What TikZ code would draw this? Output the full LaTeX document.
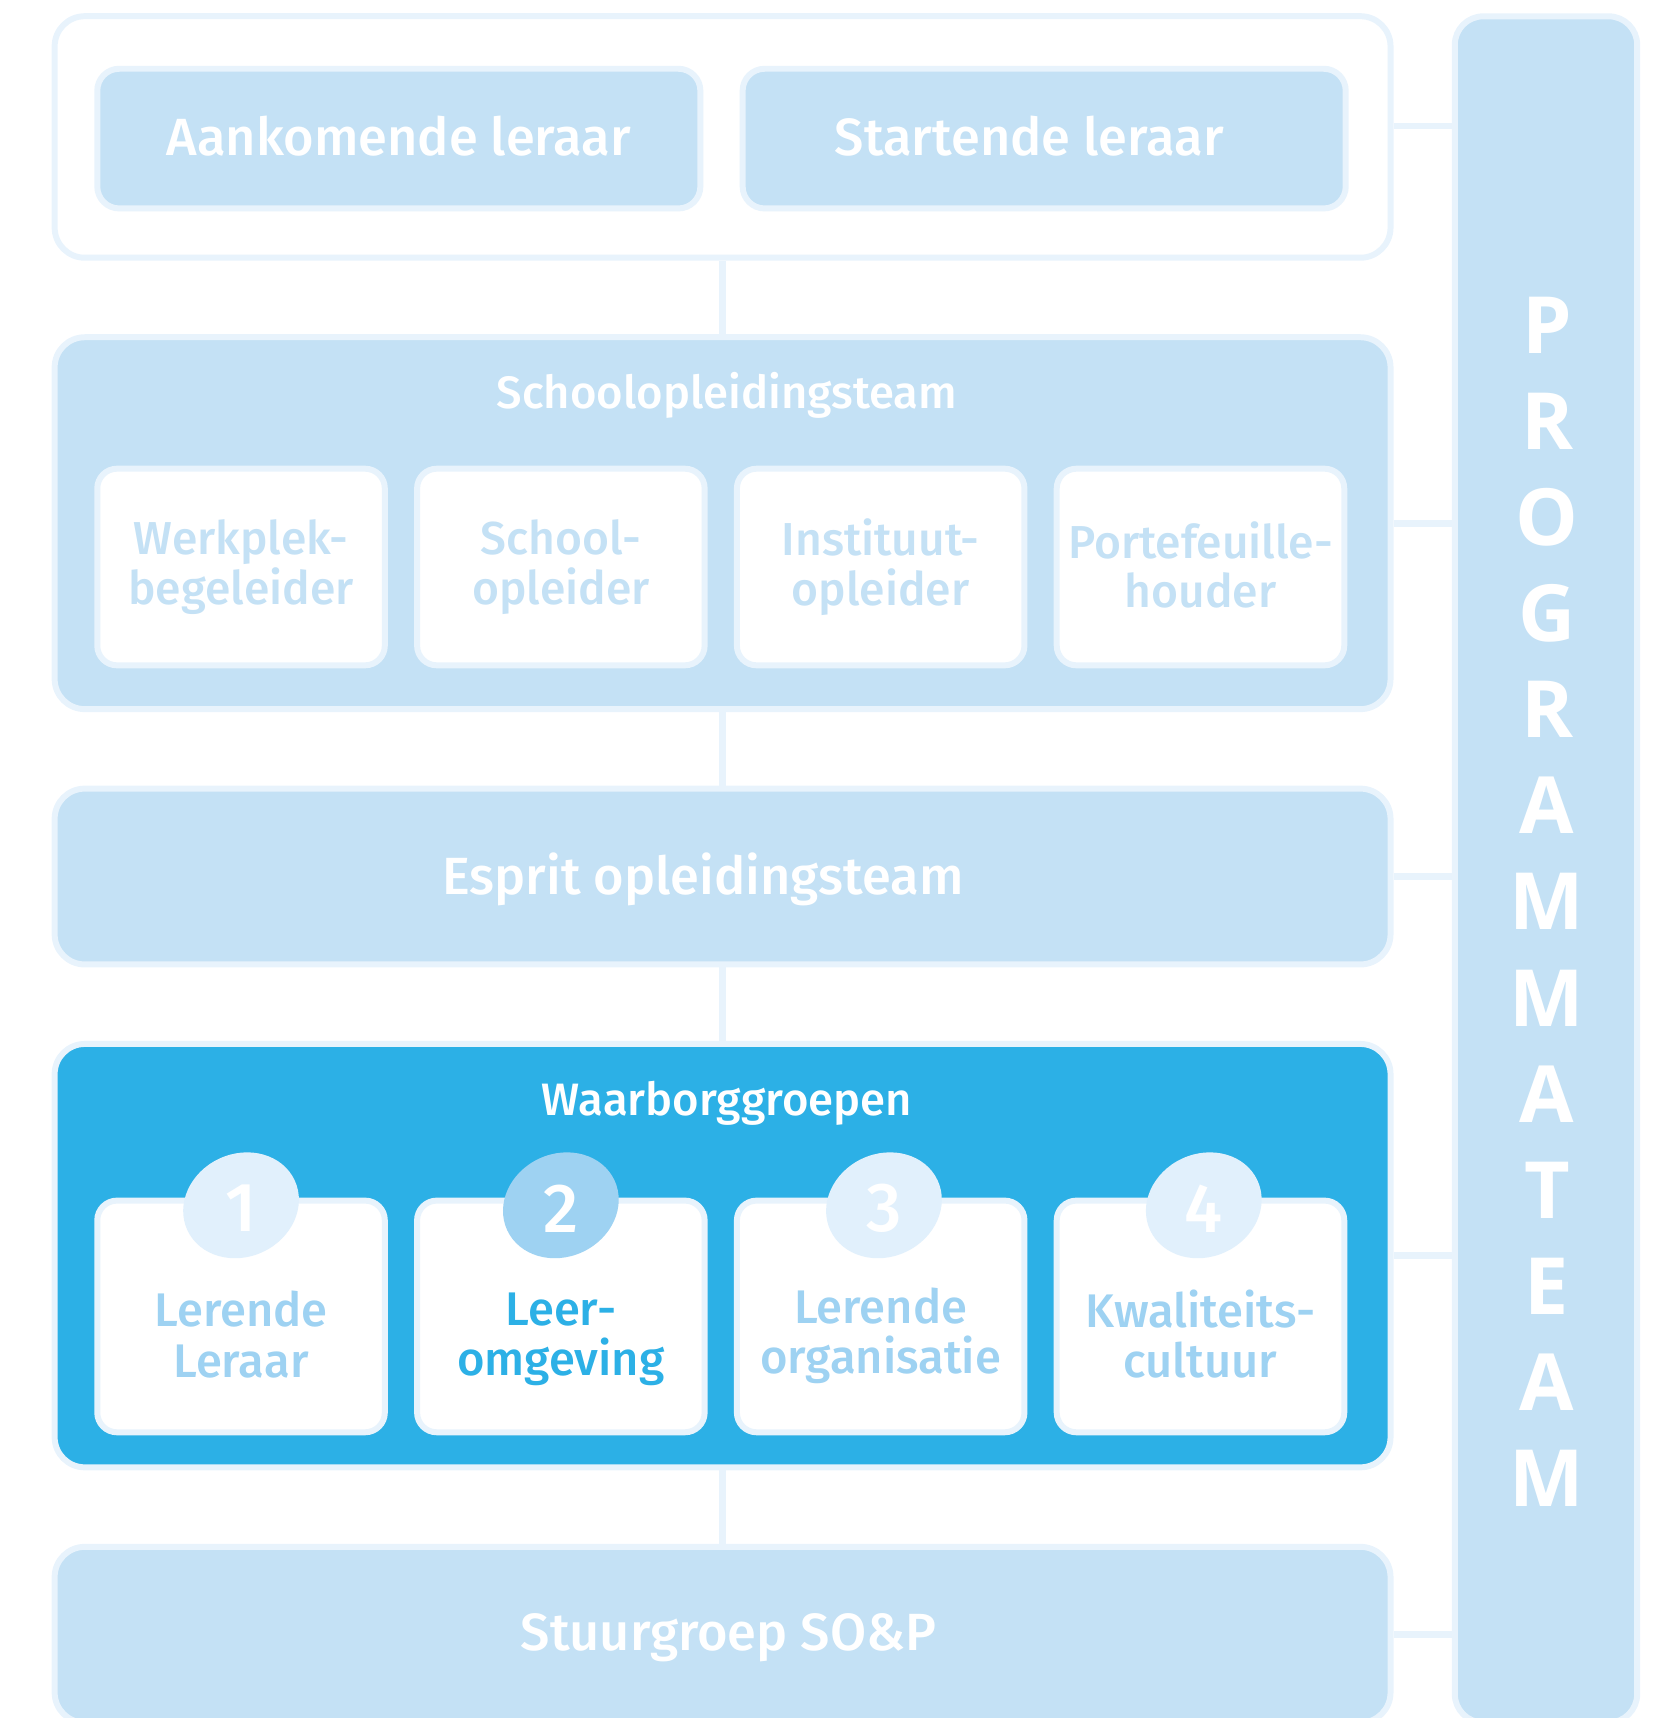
\documentclass[tikz,border=0pt]{standalone}
\usepackage{fontspec}
\setmainfont{Fira Sans}[BoldFont={Fira Sans Medium}]
\newfontfamily\progfont{Open Sans}
\usetikzlibrary{positioning, shapes.geometric}

\definecolor{palebd}{HTML}{E8F3FC}
\definecolor{lightfill}{HTML}{C4E1F5}
\definecolor{waarblue}{HTML}{2CB0E6}
\definecolor{bloblight}{HTML}{E1F0FC}
\definecolor{blobdark}{HTML}{9ED2F2}

\begin{document}
\begin{tikzpicture}[x=0.02cm, y=-0.02cm, every node/.style={inner sep=0pt}]
    \tikzstyle{panel}=[draw=palebd, line width=3.1pt, rounded corners=0.55cm, minimum width=24.39cm]
    \tikzstyle{rolebox}=[draw=palebd, fill=lightfill, line width=3.1pt, rounded corners=0.4cm, minimum width=11.01cm, minimum height=2.55cm]
    \tikzstyle{subbox}=[draw=palebd, fill=white, line width=3.1pt, rounded corners=0.36cm, minimum width=5.25cm, minimum height=3.59cm, align=center, text=lightfill, font=\bfseries\fontsize{24}{25.6}\selectfont]
    \tikzstyle{waarbox}=[subbox, minimum height=4.23cm]
    \tikzstyle{blob}=[ellipse, minimum width=2.16cm, minimum height=1.88cm, rotate=25]
    \tikzstyle{num}=[text=white, font=\bfseries\fontsize{36}{36}\selectfont]
    \tikzstyle{waartext}=[align=center, text=blobdark, font=\bfseries\fontsize{24.5}{26}\selectfont]
    \tikzstyle{bigtext}=[anchor=base, text=white, font=\bfseries\fontsize{27.2}{30}\selectfont]
    \tikzstyle{titletext}=[anchor=base, text=white, font=\bfseries\fontsize{23.6}{26}\selectfont]
    \tikzstyle{progletter}=[text=white, font=\progfont\bfseries\fontsize{41}{41}\selectfont]
    \tikzstyle{link}=[draw=palebd, line width=3.6pt]

    \useasboundingbox (0,0) rectangle (1510,1568);

    % leraren
    \node[panel, fill=white, minimum height=4.41cm] (top) at (659.5,125) {};
    \node[rolebox] (aank) at (364,126.5) {};
    \node[rolebox] (start) at (953,126.5) {};
    \node[bigtext] (aanktext) at (364,141.5) {Aankomende leraar};
    \node[bigtext] (starttext) at (939.5,141.5) {Startende leraar};

    % schoolopleidingsteam
    \node[panel, fill=lightfill, minimum height=6.79cm] (school) at (659.5,477.5) {};
    \node[titletext] (schooltitle) at (663.5,373) {Schoolopleidingsteam};
    \node[subbox] (s1) at (220,517.5) {Werkplek-\\begeleider};
    \node[subbox, right=0.48cm of s1] (s2) {School-\\opleider};
    \node[subbox, right=0.48cm of s2] (s3) {Instituut-\\opleider};
    \node[subbox, right=0.48cm of s3, text depth=0.25em] (s4) {Portefeuille-\\houder};

    % esprit
    \node[panel, fill=lightfill, minimum height=3.21cm] (esprit) at (659.5,800) {};
    \node[bigtext] (esprittext) at (641.5,816) {Esprit opleidingsteam};

    % waarborggroepen
    \node[panel, fill=waarblue, minimum height=7.73cm] (waar) at (659.5,1146) {};
    \node[titletext] (waartitle) at (663.5,1018) {Waarborggroepen};
    \node[waarbox] (w1) at (220,1201.5) {};
    \node[waarbox, right=0.48cm of w1] (w2) {};
    \node[waarbox, right=0.48cm of w2] (w3) {};
    \node[waarbox, right=0.48cm of w3] (w4) {};
    \node[blob, fill=bloblight] (b1) at ([yshift=-0.14cm]w1.north) {};
    \node[blob, fill=blobdark] (b2) at ([yshift=-0.14cm]w2.north) {};
    \node[blob, fill=bloblight] (b3) at ([xshift=0.06cm, yshift=-0.14cm]w3.north) {};
    \node[blob, fill=bloblight] (b4) at ([xshift=0.06cm, yshift=-0.14cm]w4.north) {};
    \foreach \i in {1,...,4}
        \node[num] (n\i) at ([yshift=-0.06cm]b\i.center) {\i};
    \node[waartext] (t1) at ([yshift=-0.33cm]w1.center) {Lerende\\Leraar};
    \node[waartext, text=waarblue] (t2) at ([yshift=-0.42cm]w2.center) {Leer-\\omgeving};
    \node[waartext] (t3) at ([yshift=-0.36cm]w3.center) {Lerende\\organisatie};
    \node[waartext] (t4) at ([yshift=-0.33cm]w4.center) {Kwaliteits-\\cultuur};

    % stuurgroep
    \node[panel, fill=lightfill, minimum height=3.21cm] (stuur) at (659.5,1492) {};
    \node[bigtext] (stuurtext) at (665,1506) {Stuurgroep SO\&P};

    % programmateam
    \node[draw=palebd, fill=lightfill, line width=3.1pt, rounded corners=0.52cm,
          minimum width=3.33cm, minimum height=31.15cm] (prog) at (1411,793.5) {};
    \foreach \ch [count=\i from 0] in {P,R,O,G,R,A,M,M,A,T,E,A,M}
        \node[progletter] (p\i) at (1412,296.5+87.75*\i) {\ch};

    % verbindingen
    \path[link] (top) -- (school)
                (school) -- (esprit)
                (esprit) -- (waar)
                (waar) -- (stuur);
    \coordinate[yshift=0.2cm] (topjoin) at (top.east);
    \path[link] (topjoin) -- (topjoin -| prog.west)
                (school.east) -- (school.east -| prog.west)
                (esprit.east) -- (esprit.east -| prog.west)
                (waar.east) -- (waar.east -| prog.west)
                (stuur.east) -- (stuur.east -| prog.west);
\end{tikzpicture}
\end{document}
